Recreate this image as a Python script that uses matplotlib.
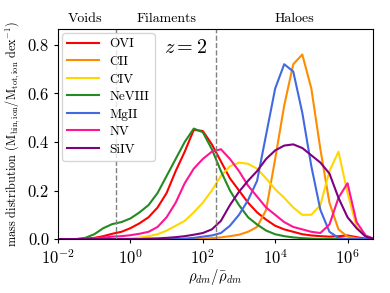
import numpy as np
import matplotlib
matplotlib.use("Agg")
import matplotlib.pyplot as plt

plt.rcParams['font.family'] = ['cmr10', 'DejaVu Serif']
plt.rcParams['mathtext.fontset'] = 'cm'
plt.rcParams['axes.formatter.use_mathtext'] = True

# log10(rho_dm / mean rho_dm)
logrho = [-2.0, -1.75, -1.5, -1.25, -1.0, -0.75, -0.5, -0.25, 0.0, 0.25, 0.5, 0.75,
          1.0, 1.25, 1.5, 1.75, 2.0, 2.25, 2.5, 2.75, 3.0, 3.25, 3.5, 3.75,
          4.0, 4.25, 4.5, 4.75, 5.0, 5.25, 5.5, 5.75, 6.0, 6.25, 6.5, 6.75]

ovi = [0, 0, 0, 0.002, 0.005, 0.012, 0.022, 0.03, 0.045, 0.065, 0.09, 0.13,
       0.19, 0.28, 0.36, 0.45, 0.445, 0.39, 0.32, 0.25, 0.2, 0.15, 0.11, 0.08,
       0.055, 0.04, 0.03, 0.02, 0.015, 0.012, 0.01, 0.012, 0.015, 0.008, 0.002, 0]
cii = [0, 0, 0, 0, 0, 0, 0, 0, 0, 0, 0, 0,
       0, 0, 0, 0, 0.002, 0.004, 0.007, 0.012, 0.018, 0.03, 0.05, 0.12,
       0.33, 0.55, 0.72, 0.76, 0.62, 0.37, 0.15, 0.04, 0.01, 0.003, 0, 0]
civ = [0, 0, 0, 0, 0, 0, 0, 0.001, 0.003, 0.006, 0.012, 0.02,
       0.035, 0.055, 0.075, 0.11, 0.15, 0.2, 0.26, 0.3, 0.315, 0.31, 0.29, 0.25,
       0.205, 0.17, 0.13, 0.1, 0.1, 0.14, 0.28, 0.36, 0.19, 0.05, 0.01, 0]
neviii = [0, 0, 0, 0.005, 0.02, 0.045, 0.062, 0.07, 0.085, 0.11, 0.14, 0.19,
          0.26, 0.33, 0.4, 0.455, 0.44, 0.37, 0.28, 0.2, 0.14, 0.09, 0.06, 0.035,
          0.02, 0.012, 0.007, 0.004, 0.002, 0, 0, 0, 0, 0, 0, 0]
mgii = [0, 0, 0, 0, 0, 0, 0, 0, 0, 0, 0, 0,
        0, 0, 0.002, 0.005, 0.01, 0.015, 0.025, 0.055, 0.1, 0.16, 0.24, 0.43,
        0.62, 0.72, 0.69, 0.52, 0.3, 0.12, 0.03, 0.005, 0, 0, 0, 0]
nv = [0, 0, 0, 0, 0.003, 0.006, 0.01, 0.012, 0.016, 0.022, 0.03, 0.05,
      0.09, 0.15, 0.23, 0.29, 0.33, 0.36, 0.37, 0.33, 0.28, 0.22, 0.175, 0.13,
      0.1, 0.07, 0.05, 0.04, 0.03, 0.025, 0.06, 0.17, 0.23, 0.07, 0.015, 0]
siiv = [0, 0, 0, 0, 0, 0, 0, 0, 0, 0, 0.002, 0.003,
        0.005, 0.008, 0.012, 0.018, 0.025, 0.04, 0.075, 0.14, 0.195, 0.24, 0.28, 0.33,
        0.365, 0.385, 0.39, 0.375, 0.345, 0.315, 0.27, 0.17, 0.09, 0.045, 0.01, 0]

ions = ['OVI', 'CII', 'CIV', 'NeVIII', 'MgII', 'NV', 'SiIV']
series = [ovi, cii, civ, neviii, mgii, nv, siiv]
colors = ['red', 'darkorange', 'gold', 'forestgreen', 'royalblue', 'deeppink', 'purple']

x = 10.0 ** np.array(logrho)

fig = plt.figure(figsize=(3.9, 2.93), dpi=100)
ax = fig.add_axes([0.149, 0.184, 0.807, 0.717])

for name, y, c in zip(ions, series, colors):
    ax.plot(x, y, color=c, lw=1.5, label=name)

# region boundaries
ax.axvline(10 ** -0.4, color='grey', ls='--', lw=1)
ax.axvline(10 ** 2.36, color='grey', ls='--', lw=1)

ax.set_xscale('log')
ax.set_xlim(1e-2, 10 ** 6.7)
ax.set_ylim(0, 0.865)
ax.set_xticks([1e-2, 1e0, 1e2, 1e4, 1e6])
ax.xaxis.set_minor_locator(matplotlib.ticker.NullLocator())
ax.set_yticks([0.0, 0.2, 0.4, 0.6, 0.8])
ax.set_yticklabels(['0.0', '0.2', '0.4', '0.6', '0.8'])
ax.tick_params(labelsize=12, length=3)

ax.set_xlabel(r'$\rho_{dm}/\bar{\rho}_{dm}$', fontsize=10.5, labelpad=0)
ax.set_ylabel(r'mass distribution $(\mathrm{M_{bin,ion}/M_{tot,ion}\ dex^{-1}})$', fontsize=8.8)

ax.text(0.086, 1.02, 'Voids', transform=ax.transAxes, ha='center', va='bottom', fontsize=10)
ax.text(0.343, 1.02, 'Filaments', transform=ax.transAxes, ha='center', va='bottom', fontsize=10)
ax.text(0.75, 1.02, 'Haloes', transform=ax.transAxes, ha='center', va='bottom', fontsize=10)
ax.text(0.405, 0.91, r'$z = 2$', transform=ax.transAxes, ha='center', va='center', fontsize=14.5)

ax.legend(loc='upper left', fontsize=9.5, handlelength=2.4, labelspacing=0.4,
          borderaxespad=0.3)

fig.savefig('out.png', dpi=100)
